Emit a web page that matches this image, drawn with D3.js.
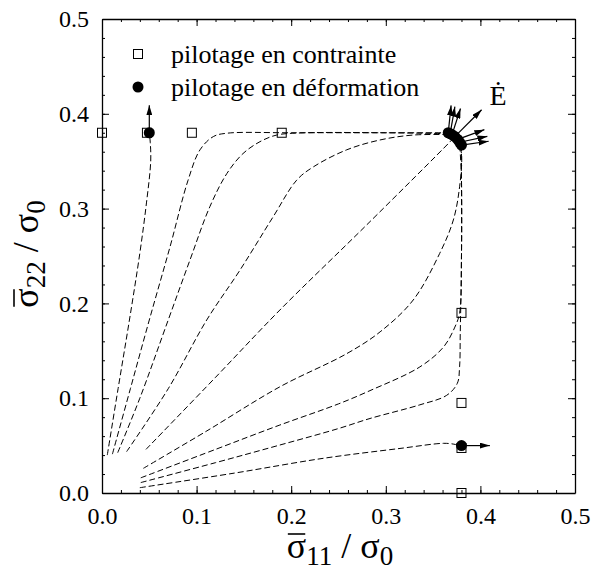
<!DOCTYPE html>
<head>
<meta charset="utf-8">
<script src="https://d3js.org/d3.v7.min.js"></script>
<style>
    body { margin: 0; background: #fff; }
    svg text, svg tspan { font-family: 'Liberation Serif' !important; }
    .domain { stroke: #000; stroke-width: 1.3; }
    .tick line { stroke: #000; stroke-width: 1; }
    .path { fill: none; stroke: #000; stroke-width: 1; stroke-dasharray: 6,3; }
</style>
</head>
<body>
<script>
    // squares : stress driven end points
    var squareX = [0, 0.0475, 0.095, 0.19, 0.38, 0.38, 0.38, 0.38];
    var squareY = [0.38, 0.38, 0.38, 0.38, 0.19, 0.095, 0.0475, 0];

    // dots : strain driven end points, with strain-rate arrows
    var dotX = [0.050, 0.366, 0.368, 0.370, 0.373, 0.376, 0.378, 0.380, 0.380];
    var dotY = [0.380, 0.380, 0.379, 0.378, 0.376, 0.373, 0.370, 0.367, 0.050];
    var rateAngle = [90, 84, 80, 72, 45, 20, 12, 8, 0];
    var rateLength = [0.029, 0.029, 0.029, 0.029, 0.04, 0.03, 0.03, 0.029, 0.03];

    // loading paths (sigma11, sigma22)
    var path1 = [[0.0056,0.040],[0.017,0.11],[0.029,0.1825],[0.040,0.253],[0.047,0.306],[0.0515,0.35],[0.051,0.37],[0.050,0.380]];
    var path2 = [[0.011,0.041],[0.03,0.11],[0.05,0.1825],[0.072,0.26],[0.091,0.330],[0.1036,0.362],[0.1177,0.376],[0.132,0.3795],[0.2,0.38],[0.3,0.38],[0.366,0.380]];
    var path3 = [[0.0166,0.0425],[0.04,0.1],[0.070,0.1825],[0.093,0.2458],[0.114,0.302],[0.132,0.337],[0.149,0.358],[0.167,0.3706],[0.1847,0.3776],[0.21,0.3798],[0.3,0.38],[0.368,0.379]];
    var path4 = [[0.026,0.0436],[0.07,0.11],[0.1107,0.1825],[0.1459,0.2352],[0.181,0.2915],[0.2058,0.330],[0.2234,0.344],[0.2587,0.362],[0.2939,0.3724],[0.329,0.3776],[0.370,0.378]];
    var path5 = [[0.0465,0.046],[0.12,0.122],[0.188,0.193],[0.28,0.283],[0.368,0.3706],[0.373,0.376]];
    var path6 = [[0.0437,0.026],[0.11,0.065],[0.188,0.112],[0.2587,0.147],[0.294,0.170],[0.329,0.2036],[0.357,0.2528],[0.3714,0.288],[0.378,0.323],[0.380,0.358],[0.376,0.373]];
    var path7 = [[0.041,0.016],[0.12,0.046],[0.188,0.0717],[0.25,0.094],[0.2833,0.108],[0.336,0.133],[0.361,0.154],[0.373,0.175],[0.378,0.19],[0.380,0.25],[0.380,0.33],[0.378,0.370]];
    var path8 = [[0.041,0.011],[0.12,0.032],[0.188,0.0506],[0.25,0.068],[0.2833,0.0786],[0.336,0.093],[0.3643,0.1030],[0.3756,0.1157],[0.378,0.133],[0.3787,0.168],[0.380,0.25],[0.380,0.33],[0.380,0.367]];
    var path9 = [[0.040,0.0056],[0.14,0.021],[0.234,0.0366],[0.315,0.047],[0.361,0.0524],[0.372,0.0515],[0.380,0.0496]];
    var paths = [path1, path2, path3, path4, path5, path6, path7, path8, path9];

    var majorTicks = [0, 0.1, 0.2, 0.3, 0.4, 0.5];
    var minorTicks = d3.range(0, 0.501, 0.02);

    var width = 595, height = 574;
    var margin = {top: 19, right: 20, bottom: 81, left: 102};
    var serif = "Liberation Serif";

    var svg = d3.select("body").append("svg")
        .attr("width", width)
        .attr("height", height)
        .attr("font-family", serif);

    var x = d3.scaleLinear().domain([0, 0.5]).range([margin.left, width - margin.right]);
    var y = d3.scaleLinear().domain([0, 0.5]).range([height - margin.bottom, margin.top]);

    svg.append("defs").append("marker")
        .attr("id", "head")
        .attr("viewBox", "0 -3 10 6")
        .attr("refX", 10)
        .attr("refY", 0)
        .attr("markerUnits", "userSpaceOnUse")
        .attr("markerWidth", 10)
        .attr("markerHeight", 6)
        .attr("orient", "auto")
        .append("path")
        .attr("d", "M0,-3L10,0L0,3Z")
        .attr("fill", "#000");

    // axes: major + minor ticks, pointing inward, on all four sides
    function addAxis(axisFn, scale, tr, labels) {
        svg.append("g").attr("transform", tr)
            .call(axisFn(scale).tickValues(minorTicks).tickSize(-3).tickFormat(""))
            .call(function(g){ g.select(".domain").remove(); });
        var g = svg.append("g").attr("transform", tr)
            .call(axisFn(scale).tickValues(majorTicks).tickSizeInner(-7).tickSizeOuter(0)
                .tickPadding(14).tickFormat(labels ? d3.format(".1f") : ""));
        g.attr("font-family", serif).attr("font-size", 24);
        g.selectAll(".tick text")
            .attr("font-family", serif)
            .attr("fill", "#000");
        return g;
    }
    addAxis(d3.axisBottom, x, "translate(0," + y(0) + ")", true);
    addAxis(d3.axisTop, x, "translate(0," + y(0.5) + ")", false);
    addAxis(d3.axisLeft, y, "translate(" + x(0) + ",0)", true).selectAll(".tick text").attr("x", -13);
    addAxis(d3.axisRight, y, "translate(" + x(0.5) + ",0)", false);

    var line = d3.line()
        .x(function(d){ return x(d[0]); })
        .y(function(d){ return y(d[1]); })
        .curve(d3.curveCatmullRom.alpha(0.5));

    svg.selectAll(".path").data(paths).enter()
        .append("path")
        .attr("class", "path")
        .attr("d", line);

    svg.selectAll(".sq").data(squareX).enter()
        .append("rect")
        .attr("class", "sq")
        .attr("x", function(d){ return x(d) - 4.5; })
        .attr("y", function(d, i){ return y(squareY[i]) - 4.5; })
        .attr("width", 9).attr("height", 9)
        .attr("fill", "none").attr("stroke", "#000").attr("stroke-width", 1);

    svg.selectAll(".rate").data(dotX).enter()
        .append("line")
        .attr("class", "rate")
        .attr("x1", function(d){ return x(d); })
        .attr("y1", function(d, i){ return y(dotY[i]); })
        .attr("x2", function(d, i){ return x(d + rateLength[i] * Math.cos(rateAngle[i] * Math.PI / 180)); })
        .attr("y2", function(d, i){ return y(dotY[i] + rateLength[i] * Math.sin(rateAngle[i] * Math.PI / 180)); })
        .attr("stroke", "#000").attr("stroke-width", 1.2)
        .attr("marker-end", "url(#head)");

    svg.selectAll(".dot").data(dotX).enter()
        .append("circle")
        .attr("class", "dot")
        .attr("cx", function(d){ return x(d); })
        .attr("cy", function(d, i){ return y(dotY[i]); })
        .attr("r", 5.5)
        .attr("fill", "#000");

    // E dot label
    svg.append("text").attr("x", 498).attr("y", 105)
        .attr("text-anchor", "middle").attr("font-family", serif).attr("font-size", 28).text("\u0116");

    // legend
    var legend = svg.append("g").attr("font-family", serif).attr("font-size", 26);
    legend.append("rect").attr("x", 133.5).attr("y", 49.5).attr("width", 9).attr("height", 9)
        .attr("fill", "none").attr("stroke", "#000");
    legend.append("circle").attr("cx", 138).attr("cy", 87).attr("r", 5.5).attr("fill", "#000");
    legend.append("text").attr("x", 171).attr("y", 63).text("pilotage en contrainte");
    legend.append("text").attr("x", 171).attr("y", 96).text("pilotage en déformation");

    // axis titles
    function title(g, sub) {
        var t = g.append("text").attr("text-anchor", "middle")
            .attr("font-family", serif).attr("font-size", 36);
        t.append("tspan").text("σ");
        t.append("tspan").attr("dy", 7).attr("font-size", 27).text(sub);
        t.append("tspan").attr("dy", -7).text(" / σ");
        t.append("tspan").attr("dy", 7).attr("font-size", 27).text("0");
        var n = t.node();
        var a = n.getStartPositionOfChar(0), b = n.getEndPositionOfChar(0);
        g.append("line")
            .attr("x1", a.x + 1).attr("x2", b.x - 1)
            .attr("y1", -24).attr("y2", -24)
            .attr("stroke", "#000").attr("stroke-width", 1.6);
    }
    title(svg.append("g").attr("transform", "translate(340,558)"), "11");
    title(svg.append("g").attr("transform", "translate(38,254) rotate(-90)"), "22");
</script>
</body>
